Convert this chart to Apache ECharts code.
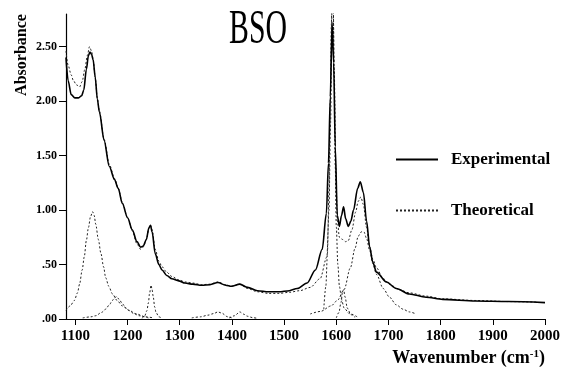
<!DOCTYPE html>
<html>
<head>
<meta charset="utf-8">
<script src="https://cdn.jsdelivr.net/npm/echarts@6/dist/echarts.min.js"></script>
<style>
  html, body { margin: 0; padding: 0; background: #fff; }
  #chart { width: 563px; height: 371px; }
</style>
</head>
<body>
<div id="chart"></div>
<script>
// BSO 红外吸收谱：实验 vs 理论 (wavenumber, absorbance)
var xTicks = [1100, 1200, 1300, 1400, 1500, 1600, 1700, 1800, 1900, 2000];
var yTicks = [0, 0.5, 1.0, 1.5, 2.0, 2.5];

var experimental = [
  [1082, 2.40], [1086, 2.19], [1092, 2.06], [1099, 2.03], [1106, 2.03], [1112, 2.05],
  [1116, 2.10], [1121, 2.29], [1125, 2.42], [1128, 2.45], [1131, 2.43], [1134, 2.38],
  [1138, 2.22], [1142, 2.02], [1146, 1.90], [1155, 1.64], [1165, 1.40], [1175, 1.28],
  [1182, 1.20], [1190, 1.06], [1200, 0.93], [1209, 0.82], [1218, 0.71], [1225, 0.66],
  [1230, 0.67], [1236, 0.73], [1241, 0.84], [1244, 0.86], [1247, 0.80], [1253, 0.60],
  [1260, 0.50], [1266, 0.45], [1275, 0.40], [1285, 0.37], [1298, 0.35], [1310, 0.33],
  [1325, 0.32], [1342, 0.31], [1358, 0.315], [1373, 0.335], [1388, 0.31], [1399, 0.30],
  [1415, 0.32], [1430, 0.29], [1449, 0.26], [1470, 0.25], [1490, 0.25], [1510, 0.26],
  [1525, 0.28], [1544, 0.33], [1560, 0.45], [1573, 0.64], [1581, 0.97], [1585, 1.43],
  [1588.5, 2.04], [1592, 2.72], [1595, 2.35], [1598, 1.58], [1602, 0.95], [1606, 0.85],
  [1610, 0.95], [1614, 1.03], [1618, 0.92], [1623, 0.85], [1628, 0.90], [1633, 1.00],
  [1641, 1.20], [1646, 1.26], [1652, 1.16], [1658, 0.90], [1664, 0.66], [1670, 0.52],
  [1677, 0.43], [1696, 0.34], [1715, 0.28], [1740, 0.23], [1772, 0.20], [1804, 0.18],
  [1867, 0.165], [1930, 0.16], [2000, 0.15]
];

var theoretical = [
  [1082, 2.46], [1086, 2.33], [1092, 2.24], [1096, 2.19], [1102, 2.15], [1108, 2.13],
  [1113, 2.18], [1118, 2.29], [1123, 2.42], [1127, 2.50], [1131, 2.46], [1134, 2.38],
  [1138, 2.22], [1142, 2.03], [1146, 1.91], [1155, 1.65], [1165, 1.42], [1175, 1.29],
  [1182, 1.20], [1190, 1.07], [1200, 0.93], [1209, 0.81], [1218, 0.69], [1225, 0.64],
  [1230, 0.66], [1236, 0.73], [1241, 0.83], [1244, 0.86], [1247, 0.82], [1253, 0.64],
  [1260, 0.53], [1266, 0.48], [1275, 0.43], [1285, 0.39], [1298, 0.36], [1310, 0.34],
  [1325, 0.33], [1342, 0.315], [1358, 0.32], [1373, 0.34], [1388, 0.315], [1399, 0.30],
  [1415, 0.32], [1430, 0.28], [1449, 0.25], [1470, 0.235], [1490, 0.235], [1510, 0.245],
  [1530, 0.26], [1550, 0.29], [1569, 0.37], [1582, 0.57], [1586, 1.0], [1589, 1.8],
  [1592, 2.9], [1594, 2.95], [1596, 2.3], [1599, 1.4], [1602, 0.9], [1606, 0.75],
  [1612, 0.73], [1618, 0.71], [1623, 0.72], [1630, 0.82], [1637, 0.98], [1642, 1.08],
  [1647, 1.12], [1652, 1.05], [1658, 0.84], [1664, 0.66], [1670, 0.55], [1677, 0.47],
  [1690, 0.37], [1702, 0.32], [1720, 0.27], [1740, 0.24], [1772, 0.21], [1804, 0.185],
  [1867, 0.17], [1930, 0.16], [1985, 0.155]
];

// 各拟合分量（Lorentz 峰）
var band1133 = [
  [1082, 0.08], [1090, 0.12], [1098, 0.17], [1104, 0.24], [1108, 0.32], [1113, 0.45],
  [1117, 0.57], [1121, 0.72], [1125, 0.84], [1129, 0.94], [1133, 0.985], [1136, 0.95],
  [1139, 0.87], [1144, 0.73], [1149, 0.60], [1154, 0.48], [1158, 0.38], [1164, 0.30],
  [1171, 0.23], [1180, 0.17], [1190, 0.12], [1203, 0.08], [1215, 0.05], [1234, 0.02],
  [1250, 0.01]
];
var band1178 = [
  [1114, 0.01], [1130, 0.02], [1139, 0.03], [1150, 0.06], [1158, 0.09], [1165, 0.13],
  [1171, 0.17], [1175, 0.195], [1179, 0.205], [1184, 0.18], [1190, 0.14], [1197, 0.10],
  [1203, 0.077], [1212, 0.05], [1222, 0.03], [1240, 0.01]
];
var band1245 = [
  [1228, 0.006], [1233, 0.03], [1237, 0.077], [1240, 0.15], [1242, 0.23], [1245, 0.31],
  [1247, 0.27], [1249, 0.21], [1252, 0.11], [1254.5, 0.06], [1260, 0.02], [1266, 0.006]
];
var band1375 = [
  [1323, 0.01], [1340, 0.02], [1354, 0.035], [1365, 0.05], [1373, 0.065], [1380, 0.055],
  [1392, 0.02], [1401, 0.008]
];
var band1415 = [
  [1395, 0.01], [1405, 0.03], [1415, 0.065], [1422, 0.045], [1430, 0.025], [1440, 0.012],
  [1449, 0.006]
];
var band1592 = [
  [1576, 0.09], [1580, 0.3], [1583, 0.6], [1586, 1.2], [1588.5, 2.0], [1590.5, 2.7],
  [1592, 3.0], [1594, 2.9], [1596, 2.2], [1598, 1.4], [1600, 0.85], [1603, 0.5],
  [1606, 0.3], [1610, 0.18], [1615, 0.1], [1625, 0.05], [1640, 0.02]
];
var band1612 = [
  [1600, 0.01], [1605, 0.06], [1609, 0.15], [1612, 0.25], [1614, 0.27], [1617, 0.2],
  [1621, 0.1], [1628, 0.04], [1636, 0.015]
];
var band1650 = [
  [1550, 0.046], [1570, 0.07], [1590, 0.12], [1602, 0.17], [1615, 0.27], [1627, 0.47],
  [1636, 0.65], [1642, 0.76], [1648, 0.80], [1653, 0.80], [1658, 0.74], [1664, 0.63],
  [1670, 0.51], [1677, 0.41], [1690, 0.28], [1702, 0.2], [1715, 0.13], [1728, 0.09],
  [1740, 0.065], [1753, 0.046]
];

var bands = [band1133, band1178, band1245, band1375, band1415, band1592, band1612, band1650];

var serif = 'Liberation Serif';
var dotted = { color: '#222', width: 1, type: [2, 2] };

var chart = echarts.init(document.getElementById('chart'));

var series = [
  {
    name: 'Experimental',
    type: 'line',
    data: experimental,
    symbol: 'none',
    smooth: 0.3,
    smoothMonotone: 'x',
    lineStyle: { color: '#000', width: 1.6 },
    itemStyle: { color: '#000' },
    z: 3
  },
  {
    name: 'Theoretical',
    type: 'line',
    data: theoretical,
    symbol: 'none',
    smooth: 0.3,
    smoothMonotone: 'x',
    lineStyle: dotted,
    itemStyle: { color: '#222' },
    z: 2
  }
];
bands.forEach(function (b, i) {
  series.push({
    name: 'band' + i,
    type: 'line',
    data: b,
    symbol: 'none',
    smooth: 0.3,
    smoothMonotone: 'x',
    lineStyle: dotted,
    z: 1
  });
});

var option = {
  backgroundColor: '#fff',
  animation: false,
  grid: { left: 66, right: 13, top: 14, bottom: 52 },
  legend: {
    data: ['Experimental', 'Theoretical'],
    orient: 'vertical',
    left: 390,
    top: 146,
    itemWidth: 42,
    itemHeight: 14,
    itemGap: 34,
    itemStyle: { color: 'rgba(0,0,0,0)', borderWidth: 0 },
    textStyle: { fontFamily: serif, fontWeight: 'bold', fontSize: 17, color: '#000', padding: [0, 0, 0, 8] }
  },
  xAxis: {
    type: 'value',
    min: 1082,
    max: 2000,
    name: 'Wavenumber (cm{sup|-1})',
    nameLocation: 'end',
    nameGap: 0,
    nameTextStyle: {
      fontFamily: serif, fontWeight: 'bold', fontSize: 18, color: '#000',
      align: 'right', verticalAlign: 'top', padding: [30, 0, 0, 0],
      rich: {
        sup: { fontFamily: serif, fontWeight: 'bold', fontSize: 11, color: '#000', verticalAlign: 'top', padding: [0, 0, 8, 0] }
      }
    },
    axisLine: { lineStyle: { color: '#000', width: 1.2 } },
    axisTick: { length: 6, lineStyle: { color: '#000' }, customValues: xTicks },
    axisLabel: {
      customValues: xTicks, margin: 10,
      fontFamily: serif, fontWeight: 'bold', fontSize: 15, color: '#000',
      formatter: function (v) { return String(v); }
    },
    splitLine: { show: false }
  },
  yAxis: {
    type: 'value',
    min: 0,
    max: 2.8,
    axisLine: { show: true, lineStyle: { color: '#000', width: 1.2 } },
    axisTick: { show: true, length: 7, lineStyle: { color: '#000' }, customValues: yTicks },
    axisLabel: {
      customValues: yTicks,
      margin: 9,
      fontFamily: serif, fontWeight: 'bold', fontSize: 12, color: '#000',
      formatter: function (v) { return v.toFixed(2).replace(/^0/, ''); }
    },
    splitLine: { show: false }
  },
  graphic: [
    {
      type: 'text',
      x: 258, y: 30,
      scaleX: 0.62,
      style: { text: 'BSO', font: '48px "Liberation Serif"', fill: '#000', textAlign: 'center', textVerticalAlign: 'middle' }
    },
    {
      type: 'text',
      x: 22, y: 55,
      rotation: Math.PI / 2,
      style: { text: 'Absorbance', font: 'bold 16px "Liberation Serif"', fill: '#000', textAlign: 'center', textVerticalAlign: 'middle' }
    }
  ],
  series: series
};

chart.setOption(option);
</script>
</body>
</html>
